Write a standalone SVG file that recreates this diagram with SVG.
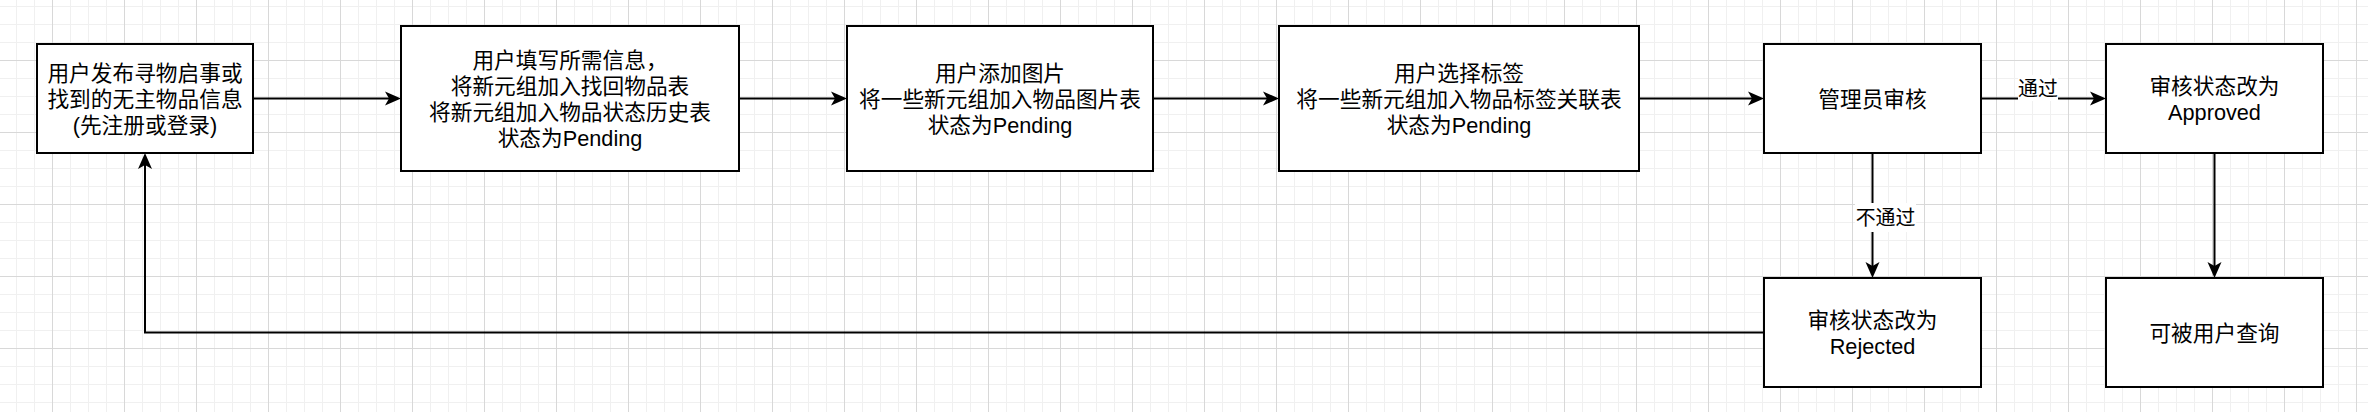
<svg xmlns="http://www.w3.org/2000/svg" width="2368" height="412" viewBox="0 0 2368 412">
<style>
.node rect{fill:#fff;stroke:#000;stroke-width:2}
.node text,.lbl text{font-family:"Liberation Sans","Noto Sans CJK SC",sans-serif;font-size:21.7px;fill:#000;text-anchor:middle}
.lbl text{font-size:19.9px}
.lbl rect{fill:#fff}
.edge{fill:none;stroke:#000;stroke-width:2}
</style>
<defs>
<pattern id="gmin" x="16" y="6" width="18" height="18" patternUnits="userSpaceOnUse">
<path d="M0.5 0V18M0 0.5H18" stroke="#f0f0f0" stroke-width="1" fill="none"/>
</pattern>
<pattern id="gmaj" x="52" y="60" width="72" height="72" patternUnits="userSpaceOnUse">
<path d="M0.5 0V72M0 0.5H72" stroke="#d8d8d8" stroke-width="1" fill="none"/>
</pattern>
<marker id="arr" viewBox="-18 -9 20 18" markerWidth="20" markerHeight="18" refX="-10" refY="0" orient="auto" markerUnits="userSpaceOnUse">
<path d="M0 0L-16 -7L-12 0L-16 7Z" fill="#000"/>
</marker>
</defs>
<rect width="2368" height="412" fill="#fff"/>
<rect width="2368" height="412" fill="url(#gmin)"/>
<rect width="2368" height="412" fill="url(#gmaj)"/>

<g id="connectors">
<path class="edge" d="M253 98.5H391" marker-end="url(#arr)"/>
<path class="edge" d="M739 98.5H837" marker-end="url(#arr)"/>
<path class="edge" d="M1153 98.5H1269" marker-end="url(#arr)"/>
<path class="edge" d="M1639 98.5H1754" marker-end="url(#arr)"/>
<path class="edge" d="M1981 98.5H2096" marker-end="url(#arr)"/>
<path class="edge" d="M1872.5 153V268" marker-end="url(#arr)"/>
<path class="edge" d="M2214.5 153V268" marker-end="url(#arr)"/>
<path class="edge" d="M1764 332.5H145V163" marker-end="url(#arr)"/>
<g class="lbl" id="lbl-pass">
<rect x="2018" y="75" width="40" height="26"/>
<text x="2038" y="95.5">通过</text>
</g>
<g class="lbl" id="lbl-fail">
<rect x="1855" y="203" width="61" height="29"/>
<text x="1885.5" y="225">不通过</text>
</g>
</g>

<g id="n1" class="node">
<rect x="37" y="44" width="216" height="109"/>
<text x="145" y="80.5">用户发布寻物启事或</text>
<text x="145" y="106.5">找到的无主物品信息</text>
<text x="145" y="132.5">(先注册或登录)</text>
</g>
<g id="n2" class="node">
<rect x="401" y="26" width="338" height="145"/>
<text x="570" y="67.5">用户填写所需信息，</text>
<text x="570" y="93.5">将新元组加入找回物品表</text>
<text x="570" y="119.5">将新元组加入物品状态历史表</text>
<text x="570" y="145.5">状态为Pending</text>
</g>
<g id="n3" class="node">
<rect x="847" y="26" width="306" height="145"/>
<text x="1000" y="80.5">用户添加图片</text>
<text x="1000" y="106.5">将一些新元组加入物品图片表</text>
<text x="1000" y="132.5">状态为Pending</text>
</g>
<g id="n4" class="node">
<rect x="1279" y="26" width="360" height="145"/>
<text x="1459" y="80.5">用户选择标签</text>
<text x="1459" y="106.5">将一些新元组加入物品标签关联表</text>
<text x="1459" y="132.5">状态为Pending</text>
</g>
<g id="n5" class="node">
<rect x="1764" y="44" width="217" height="109"/>
<text x="1872.5" y="106.5">管理员审核</text>
</g>
<g id="n6" class="node">
<rect x="2106" y="44" width="217" height="109"/>
<text x="2214.5" y="93.5">审核状态改为</text>
<text x="2214.5" y="119.5">Approved</text>
</g>
<g id="n7" class="node">
<rect x="1764" y="278" width="217" height="109"/>
<text x="1872.5" y="327.5">审核状态改为</text>
<text x="1872.5" y="353.5">Rejected</text>
</g>
<g id="n8" class="node">
<rect x="2106" y="278" width="217" height="109"/>
<text x="2214.5" y="340.5">可被用户查询</text>
</g>
</svg>
